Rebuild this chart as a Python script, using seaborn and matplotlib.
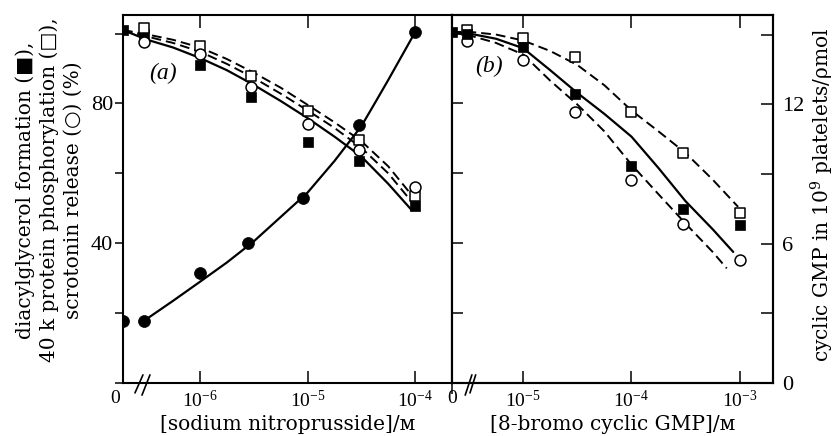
import numpy as np
import pandas as pd
import matplotlib
matplotlib.use("Agg")
import matplotlib.pyplot as plt
import matplotlib.transforms as mtransforms
from matplotlib.ticker import FixedLocator, NullLocator, FixedFormatter
import seaborn as sns

# ------------------------------------------------------------------ data
# (a) sodium nitroprusside, concentrations in M (0 = no addition)
conc_a = [0, 3e-7, 1e-6, 3e-6, 1e-5, 3e-5, 1e-4]
dag_a = [101.0, 99.9, 91.1, 81.8, 69.0, 63.4, 50.7]          # filled squares (%)
p40k_a = [np.nan, 101.5, 96.4, 87.8, 77.7, 69.4, 53.4]       # open squares (%)
sero_a = [np.nan, 97.5, 94.0, 84.7, 74.2, 66.6, 56.1]        # open circles (%)
cgmp_conc_a = [0, 3e-7, 1e-6, 2.8e-6, 9e-6, 3e-5, 1e-4]
cgmp_a = [2.68, 2.68, 4.74, 6.03, 7.95, 11.12, 15.11]        # filled circles (pmol)

# fitted curves of (a) (log10 of concentration; nan = zero dose)
curve_logx_a = [np.nan, -6.5, -6.25, -6.0, -5.75, -5.5, -5.25, -5.0, -4.75, -4.5, -4.25, -4.03]
fit_dag_a = [101.0, 98.3, 96.0, 93.0, 89.5, 85.3, 80.7, 75.8, 70.5, 64.8, 57.0, 49.4]
fit_sero_a = [101.0, 99.2, 97.3, 94.8, 91.3, 87.3, 82.8, 78.0, 73.0, 67.3, 60.0, 51.8]
fit_p40k_a = [101.0, 99.8, 98.2, 96.0, 92.7, 88.8, 84.5, 79.6, 74.6, 69.2, 62.0, 53.7]
cgmp_curve_logx_a = [-6.52, -6.25, -6.0, -5.75, -5.5, -5.25, -5.0, -4.75, -4.5, -4.375, -4.25, -4.125, -4.0]
fit_cgmp_a = [2.68, 3.54, 4.36, 5.19, 6.10, 7.15, 8.20, 9.56, 11.06, 12.05, 13.05, 14.08, 15.11]

# (b) 8-bromo cyclic GMP
conc_b = [0, 3e-6, 1e-5, 3e-5, 1e-4, 3e-4, 1e-3]
dag_b = [100.4, 99.9, 96.1, 82.6, 62.0, 49.7, 45.3]
p40k_b = [np.nan, 101.1, 98.7, 93.2, 77.5, 65.8, 48.7]
sero_b = [np.nan, 98.0, 92.5, 77.5, 58.0, 45.6, 35.3]

curve_logx_b = [np.nan, -5.5, -5.25, -5.0, -4.75, -4.5, -4.25, -4.0, -3.75, -3.5, -3.25]
fit_dag_b = [100.4, 100.0, 98.5, 95.8, 89.5, 83.0, 77.0, 70.5, 61.5, 52.0, 44.0]
fit_p40k_b = [100.4, 100.5, 99.7, 98.0, 95.0, 91.0, 85.2, 78.0, 72.0, 65.8, 58.2]
fit_sero_b = [100.4, 99.5, 97.3, 94.0, 86.5, 79.7, 72.0, 62.5, 54.0, 45.6, 37.5]
end_logx_b = {"dag": -3.06, "p40k": -3.015, "sero": -3.12}
end_val_b = {"dag": 37.5, "p40k": 50.4, "sero": 32.8}

xticks_a = [1e-6, 1e-5, 1e-4]
xticklabels_a = [r"$\mathregular{10^{-6}}$", r"$\mathregular{10^{-5}}$", r"$\mathregular{10^{-4}}$"]
xticks_b = [1e-5, 1e-4, 1e-3]
xticklabels_b = [r"$\mathregular{10^{-5}}$", r"$\mathregular{10^{-4}}$", r"$\mathregular{10^{-3}}$"]
yticks_pct = [0, 20, 40, 60, 80, 100]
yticklabels_pct = ["", "", "40", "", "80", ""]
yticks_cgmp = [0, 3, 6, 9, 12, 15]
yticklabels_cgmp = ["0", "", "6", "", "12", ""]

# ------------------------------------------------------------------ style
sns.set_style("ticks")
plt.rcParams.update({
    "font.family": ["Liberation Serif", "DejaVu Serif"],
    "mathtext.fontset": "custom",
    "mathtext.rm": "Liberation Serif",
    "mathtext.it": "Liberation Serif:italic",
    "axes.edgecolor": "black",
    "xtick.color": "black",
    "ytick.color": "black",
    "text.color": "black",
    "axes.labelcolor": "black",
    "axes.linewidth": 1.5,
})
LABEL_FONT = ["DejaVu Serif"]
LABEL_SIZE = 14.5

XLIM_A = (10 ** -6.716, 10 ** -3.66)
XLIM_B = (10 ** -5.66, 10 ** -2.69)
YMAX = 105.3
YMAX_C = 15.85

fig = plt.figure(figsize=(8.36, 4.36), dpi=100)
axa = fig.add_axes([0.1471, 0.1216, 0.3932, 0.844])
axb = fig.add_axes([0.5403, 0.1216, 0.3847, 0.844])
for ax in (axa, axb):
    ax.set_xscale("log")
    ax.set_facecolor("white")

def xs(values, xmin):
    v = np.asarray(values, dtype=float)
    return np.where(v == 0, xmin, v)

def xs_log(values, xmin):
    v = np.asarray(values, dtype=float)
    return np.where(np.isnan(v), xmin, 10 ** np.nan_to_num(v))

SOLID_LW = 1.6
DASH_LW = 1.4
DASH = (0, (5.0, 2.6))

def curve(ax, x, y, dashed):
    sns.lineplot(x=x, y=y, ax=ax, color="black", estimator=None, sort=False,
                 linewidth=DASH_LW if dashed else SOLID_LW,
                 linestyle=DASH if dashed else "-", zorder=2)

def filled_sq(ax, x, y):
    sns.scatterplot(x=x, y=y, ax=ax, marker="s", s=44, color="black",
                    edgecolor="black", linewidth=0.5, zorder=5)

def open_sq(ax, x, y):
    sns.scatterplot(x=x, y=y, ax=ax, marker="s", s=46, color="white",
                    edgecolor="black", linewidth=1.1, zorder=5)

def open_circ(ax, x, y):
    sns.scatterplot(x=x, y=y, ax=ax, marker="o", s=62, color="white",
                    edgecolor="black", linewidth=1.1, zorder=5)

# ---- panel (a)
cx = xs_log(curve_logx_a, XLIM_A[0])
curve(axa, cx, fit_dag_a, False)
curve(axa, cx, fit_sero_a, True)
curve(axa, cx, fit_p40k_a, True)
xa = xs(conc_a, XLIM_A[0])
filled_sq(axa, xa, dag_a)
open_sq(axa, xa, p40k_a)
open_circ(axa, xa, sero_a)

axa2 = axa.twinx()
axa2.set_xscale("log")
sns.lineplot(x=10 ** np.asarray(cgmp_curve_logx_a), y=fit_cgmp_a, ax=axa2, color="black",
             estimator=None, sort=False, linewidth=SOLID_LW, zorder=2)
sns.scatterplot(x=xs(cgmp_conc_a, XLIM_A[0]), y=cgmp_a, ax=axa2, marker="o", s=74,
                color="black", edgecolor="black", linewidth=0.5, zorder=5)
axa2.set_ylim(0, YMAX_C)
axa2.set_axis_off()

# ---- panel (b)
cbx = xs_log(curve_logx_b, XLIM_B[0])
for key, fit, dashed in (("dag", fit_dag_b, False), ("p40k", fit_p40k_b, True), ("sero", fit_sero_b, True)):
    x = np.append(cbx, 10 ** end_logx_b[key])
    y = np.append(fit, end_val_b[key])
    curve(axb, x, y, dashed)
xb = xs(conc_b, XLIM_B[0])
open_sq(axb, xb, p40k_b)
open_circ(axb, xb, sero_b)
filled_sq(axb, xb, dag_b)

axb2 = axb.twinx()
axb2.set_ylim(0, YMAX_C)

# ---- axes formatting
for ax, xlim, ticks, labels in ((axa, XLIM_A, xticks_a, xticklabels_a),
                                (axb, XLIM_B, xticks_b, xticklabels_b)):
    ax.set_xlim(*xlim)
    ax.set_ylim(0, YMAX)
    ax.xaxis.set_major_locator(FixedLocator([xlim[0]] + ticks))
    ax.xaxis.set_major_formatter(FixedFormatter(["0"] + labels))
    ax.xaxis.set_minor_locator(NullLocator())
    ax.yaxis.set_major_locator(FixedLocator(yticks_pct))
    ax.yaxis.set_minor_locator(NullLocator())
    ax.tick_params(axis="x", which="major", direction="in", length=9, width=1.1,
                   top=True, bottom=True, labelsize=14, pad=5)
    ax.set_ylabel("")
    for s in ax.spines.values():
        s.set_linewidth(1.5)
        s.set_visible(True)

axa2.set_xlim(*XLIM_A)
axa.yaxis.set_major_formatter(FixedFormatter(yticklabels_pct))
axa.tick_params(axis="y", which="major", left=True, right=True, labelleft=True,
                labelright=False, width=1.1, labelsize=16, pad=1)
axa.yaxis.set_tick_params(which="major", direction="out", length=6)
for t in axa.yaxis.get_major_ticks():
    t.tick2line.set_marker(3)  # pointing left (inward) on the right spine
    t.tick2line.set_markersize(8)

axb.tick_params(axis="y", which="major", left=True, right=False, labelleft=False,
                direction="in", length=8, width=1.1)
axb2.yaxis.set_major_locator(FixedLocator(yticks_cgmp))
axb2.yaxis.set_major_formatter(FixedFormatter(yticklabels_cgmp))
axb2.tick_params(axis="y", direction="in", length=9, width=1.1, labelsize=16, pad=6)
for s in axb2.spines.values():
    s.set_linewidth(1.5)

axa.set_xlabel("[sodium nitroprusside]/м", fontsize=LABEL_SIZE, labelpad=3, family=LABEL_FONT)
axb.set_xlabel("[8-bromo cyclic GMP]/м", fontsize=LABEL_SIZE, labelpad=3, family=LABEL_FONT)

# shift the zero label of (a) a little to the left
off = mtransforms.ScaledTranslation(-8 / 100, 0, fig.dpi_scale_trans)
lab0 = axa.xaxis.get_major_ticks()[0].label1
lab0.set_transform(lab0.get_transform() + off)

# axis-break marks
for ax, segs in ((axa, [((0.0365, -0.027), (0.0608, 0.022)), ((0.0578, -0.033), (0.0821, 0.022))]),
                 (axb, [((0.0420, -0.033), (0.0628, 0.022)), ((0.0569, -0.027), (0.0746, 0.022))])):
    for (x0, y0), (x1, y1) in segs:
        ax.plot([x0, x1], [y0, y1], transform=ax.transAxes, color="black", lw=1.2,
                clip_on=False, zorder=6)

axa.text(0.1217, 0.842, "(a)", transform=axa.transAxes, fontsize=17, fontstyle="italic",
         ha="center", va="center")
axb.text(0.116, 0.861, "(b)", transform=axb.transAxes, fontsize=17, fontstyle="italic",
         ha="center", va="center")

fig.text(0.0586, 0.564,
         "diacylglycerol formation (■),\n40 k protein phosphorylation (□),\nscrotonin release (○) (%)",
         rotation=90, ha="center", va="center", multialignment="center",
         fontsize=LABEL_SIZE, linespacing=1.3, family=LABEL_FONT)
fig.text(0.984, 0.553, r"cyclic GMP in $\mathregular{10^{9}}$ platelets/ρmol",
         rotation=90, ha="center", va="center", fontsize=LABEL_SIZE, family=LABEL_FONT)

fig.savefig("out.png", dpi=100)
